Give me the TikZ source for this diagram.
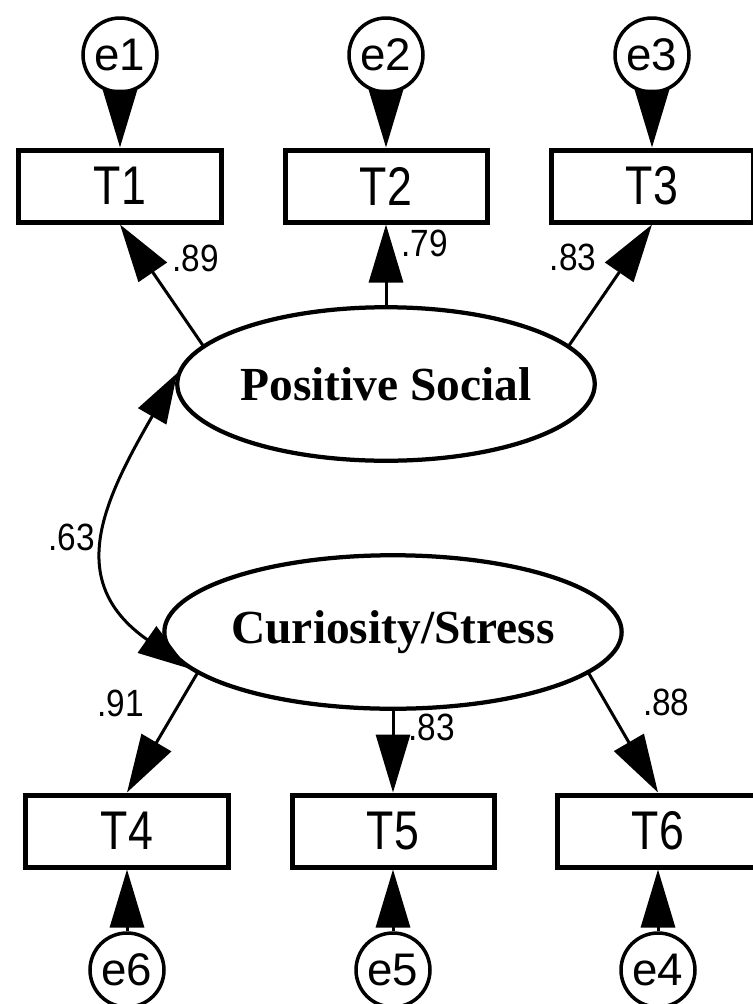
\documentclass[tikz,border=0pt]{standalone}
\usepackage{fontspec}
\setmainfont{Liberation Serif}
\setsansfont{Liberation Sans}
\usetikzlibrary{arrows.meta, positioning, shapes.geometric}
\newcommand{\narrow}[2][0.82]{\scalebox{#1}[1]{#2}}

\begin{document}
\begin{tikzpicture}[
    x=0.2mm, y=-0.2mm,
    observed/.style={rectangle, draw, line width=1mm, minimum width=40.4mm, minimum height=14.4mm, font=\sffamily\fontsize{31}{31}\selectfont},
    latent/.style={ellipse, draw, line width=0.85mm, minimum width=83.5mm, minimum height=30.7mm, inner sep=0pt, font=\bfseries\fontsize{27}{30}\selectfont},
    errterm/.style={circle, draw, line width=0.7mm, minimum size=14.8mm, inner sep=0pt, font=\sffamily\fontsize{26}{26}\selectfont},
    loading/.style={-{Triangle[length=11.6mm, width=6.8mm]}, line width=0.6mm},
    corr/.style={{Triangle[length=10mm, width=6.4mm]}-{Triangle[length=10mm, width=6.4mm]}, line width=0.6mm},
    coef/.style={inner sep=0pt, font=\sffamily\fontsize{21.6}{22}\selectfont}
]
    \useasboundingbox (0,0) rectangle (753,1004);

    % factors
    \node[latent] (PS) at (386,384) {Positive Social};
    \node[latent] (CS) at (393,632) {Curiosity/Stress};

    % indicators
    \node[observed] (T1) at (120,186) {\narrow{T1}};
    \node[observed] (T2) at (386,186) {\narrow{T2}};
    \node[observed] (T3) at (652,186) {\narrow{T3}};
    \node[observed] (T4) at (127,831) {\narrow{T4}};
    \node[observed] (T5) at (393,831) {\narrow{T5}};
    \node[observed] (T6) at (658,831) {\narrow{T6}};

    % error terms
    \node[errterm] (e1) at (120,55) {e1};
    \node[errterm] (e2) at (386,55) {e2};
    \node[errterm] (e3) at (652,55) {e3};
    \node[errterm] (e6) at (127,970) {e6};
    \node[errterm] (e5) at (393,970) {e5};
    \node[errterm] (e4) at (658,970) {e4};

    \draw[loading] (e1) -- (T1);
    \draw[loading] (e2) -- (T2);
    \draw[loading] (e3) -- (T3);
    \draw[loading] (e6) -- (T4);
    \draw[loading] (e5) -- (T5);
    \draw[loading] (e4) -- (T6);

    % loadings
    \draw[loading] (PS.168) -- (T1.south) node[coef, pos=.72, right=5.6mm] (l1) {\narrow[.88]{.89}};
    \draw[loading] (PS.north) -- (T2.south) node[coef, pos=.77, right=2.8mm] (l2) {\narrow[.88]{.79}};
    \draw[loading] (PS.12) -- (T3.south) node[coef, pos=.73, left=6.4mm] (l3) {\narrow[.88]{.83}};
    \draw[loading] (CS.192) -- (T4.north) node[coef, pos=.25, left=6.8mm] (l4) {\narrow[.88]{.91}};
    \draw[loading] (CS.south) -- (T5.north) node[coef, pos=.2, right=2.8mm] (l5) {\narrow[.88]{.83}};
    \draw[loading] (CS.348) -- (T6.north) node[coef, pos=.24, right=7.2mm] (l6) {\narrow[.88]{.88}};

    % correlation
    \draw[corr] (PS.177) to[out=240, in=145, looseness=1.3] node[coef, pos=.5, left=2.4mm] (r1) {\narrow[.88]{.63}} (CS.190);
\end{tikzpicture}
\end{document}
